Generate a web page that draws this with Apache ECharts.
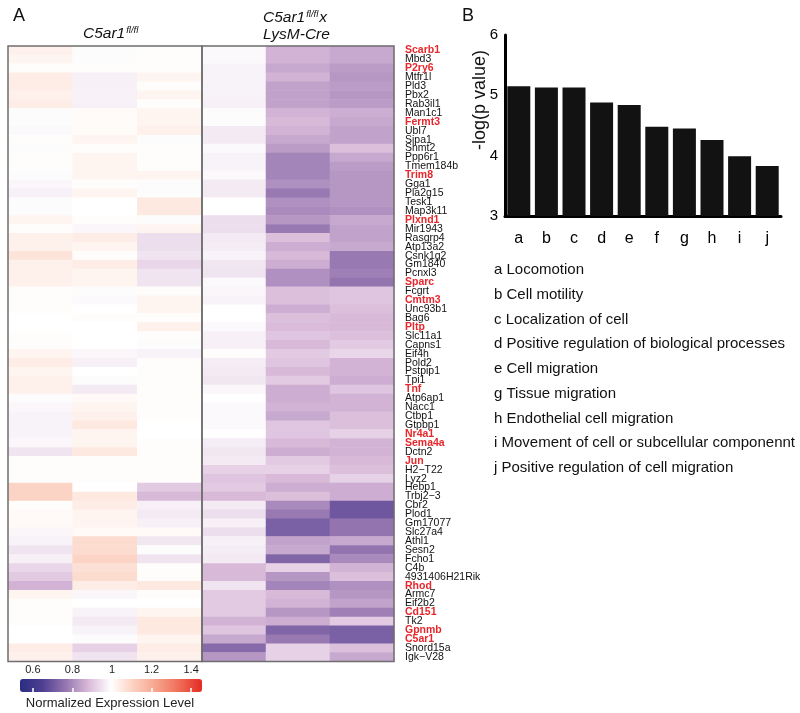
<!DOCTYPE html>
<html><head><meta charset="utf-8">
<script src="https://cdn.jsdelivr.net/npm/echarts@6/dist/echarts.min.js"></script>
<style>html,body{margin:0;padding:0;background:#fff}#c{width:800px;height:713px}</style>
</head><body><div id="c"></div>
<script>
const genes = ['Scarb1','Mbd3','P2ry6','Mtfr1l','Pld3','Pbx2','Rab3il1','Man1c1','Fermt3','Ubl7',
'Sipa1','Shmt2','Ppp6r1','Tmem184b','Trim8','Gga1','Pla2g15','Tesk1','Map3k11','Plxnd1',
'Mir1943','Rasgrp4','Atp13a2','Csnk1g2','Gm1840','Pcnxl3','Sparc','Fcgrt','Cmtm3','Unc93b1',
'Bag6','Pltp','Slc11a1','Capns1','Eif4h','Pold2','Pstpip1','Tpi1','Tnf','Atp6ap1',
'Nacc1','Ctbp1','Gtpbp1','Nr4a1','Sema4a','Dctn2','Jun','H2\u2212T22','Lyz2','Hebp1',
'Trbj2\u22123','Cbr2','Plod1','Gm17077','Slc27a4','Athl1','Sesn2','Fcho1','C4b','4931406H21Rik',
'Rhod','Armc7','Eif2b2','Cd151','Tk2','Gpnmb','C5ar1','Snord15a','Igk\u2212V28'];
const redGenes = ['Scarb1','P2ry6','Fermt3','Trim8','Plxnd1','Sparc','Cmtm3','Pltp','Tnf','Nr4a1','Sema4a','Jun','Rhod','Cd151','Gpnmb','C5ar1'];
const groupCols = ['rep1','rep2','rep3'];
const ctrl1 = [1.03,1.02,1.0,1.04,1.04,1.03,1.04,0.99,0.99,0.985,
1.0,0.99,1.0,1.0,0.99,0.98,0.97,0.99,0.99,1.02,
1.0,1.03,1.03,1.06,1.03,1.03,1.03,1.0,1.0,1.0,
0.995,0.995,1.0,1.0,1.02,1.04,1.02,1.03,1.03,0.99,
0.98,0.975,0.975,0.975,0.98,0.95,1.0,1.0,1.0,1.1,
1.1,1.0,1.01,1.01,0.98,0.975,0.95,0.97,0.93,0.91,
0.87,1.02,1.0,1.0,1.0,0.995,0.995,1.04,1.03];
const ctrl2 = [0.99,0.99,1.0,0.97,0.97,0.97,0.97,1.005,1.005,1.005,
1.02,1.0,1.02,1.02,1.02,1.0,1.02,0.995,0.995,1.0,
0.98,1.04,1.02,1.0,1.04,1.02,1.02,0.99,0.985,0.995,
1.0,0.995,0.995,0.995,0.98,0.97,0.995,0.99,0.96,1.01,
1.02,1.03,1.05,1.02,1.02,1.05,1.0,1.0,1.0,0.995,
1.05,1.04,1.02,1.02,1.01,1.08,1.08,1.1,1.07,1.08,
1.04,0.98,0.995,0.975,0.96,0.975,0.99,0.92,0.95];
const ctrl3 = [1.0,1.0,1.0,1.02,1.0,1.02,1.0,1.02,1.02,1.03,
0.99,1.0,1.0,1.0,1.02,0.99,0.99,1.05,1.05,0.99,
1.02,0.94,0.94,0.95,0.93,0.95,0.95,1.0,1.02,1.02,
1.0,1.03,1.0,0.99,0.975,1.0,1.0,1.0,1.0,1.0,
1.0,1.0,0.995,0.995,1.0,1.0,1.0,1.0,1.0,0.91,
0.88,0.97,0.96,0.97,1.01,0.955,0.99,0.95,1.0,1.0,
1.05,1.0,0.995,1.02,1.05,1.05,1.02,1.04,1.03];
const ko1 = [0.985,0.985,0.975,0.975,0.975,0.975,0.97,0.99,0.99,0.96,
0.96,0.985,0.975,0.975,0.985,0.96,0.96,0.995,0.995,0.94,
0.94,0.96,0.965,0.975,0.955,0.95,0.985,0.98,0.975,0.995,
0.995,0.985,0.97,0.97,1.0,0.965,0.96,0.955,0.98,0.995,
0.985,0.985,0.985,0.995,0.965,0.955,0.96,0.92,0.9,0.91,
0.88,0.96,0.94,0.97,0.94,0.97,0.965,0.96,0.88,0.88,
0.95,0.91,0.91,0.91,0.87,0.9,0.85,0.74,0.82];
const ko2 = [0.87,0.87,0.85,0.87,0.84,0.84,0.84,0.87,0.88,0.87,
0.85,0.83,0.79,0.79,0.79,0.81,0.77,0.81,0.8,0.82,
0.77,0.89,0.86,0.88,0.86,0.81,0.81,0.89,0.89,0.86,
0.89,0.885,0.9,0.88,0.91,0.9,0.88,0.91,0.86,0.86,
0.87,0.85,0.9,0.9,0.88,0.86,0.91,0.92,0.88,0.86,
0.89,0.8,0.77,0.72,0.72,0.84,0.85,0.73,0.92,0.82,
0.79,0.88,0.87,0.82,0.86,0.73,0.77,0.92,0.92];
const ko3 = [0.85,0.85,0.83,0.82,0.83,0.82,0.83,0.86,0.85,0.84,
0.84,0.89,0.85,0.83,0.82,0.82,0.82,0.82,0.81,0.85,
0.84,0.84,0.85,0.77,0.77,0.78,0.76,0.9,0.9,0.89,
0.88,0.88,0.89,0.91,0.93,0.87,0.87,0.86,0.9,0.87,
0.87,0.89,0.89,0.92,0.87,0.87,0.88,0.89,0.92,0.86,
0.86,0.7,0.7,0.76,0.76,0.85,0.76,0.8,0.87,0.89,
0.81,0.82,0.84,0.78,0.91,0.72,0.72,0.89,0.85];
const colorTicks = [0.6,0.8,1,1.2,1.4];
const barCats = ['a','b','c','d','e','f','g','h','i','j'];
const barValues = [5.15,5.13,5.13,4.88,4.84,4.48,4.45,4.26,3.99,3.83];
const termLabels = ['a Locomotion','b Cell motility','c Localization of cell',
'd Positive regulation of biological processes','e Cell migration','g Tissue migration',
'h Endothelial cell migration','i Movement of cell or subcellular componennt',
'j Positive regulation of cell migration'];

const FF = '"Liberation Sans", Arial, sans-serif';
function cells(cols){const d=[];cols.forEach((arr,ci)=>arr.forEach((v,ri)=>d.push([ci,ri,v])));return d;}

const chart = echarts.init(document.getElementById('c'), null, {renderer:'canvas'});
const hmTop = 46, hmH = 615.5;
const geneAxisBase = {type:'category', data:genes, inverse:true, axisLine:{show:false}, axisTick:{show:false}, splitLine:{show:false}};
const titleRich = {
  i:{fontSize:15.5, fontStyle:'italic', fontFamily:FF, lineHeight:17, fill:'#111'},
  s:{fontSize:9.5, fontStyle:'italic', fontFamily:FF, verticalAlign:'top', fill:'#111', padding:[0,1,0,1]}
};
const option = {
  animation:false,
  backgroundColor:'#fff',
  textStyle:{fontFamily:FF},
  grid:[
    {left:8, top:hmTop, width:194, height:hmH, show:true, borderColor:'#6e6e6e', borderWidth:1.5, backgroundColor:'transparent', z:5},
    {left:202, top:hmTop, width:192, height:hmH, show:true, borderColor:'#6e6e6e', borderWidth:1.5, backgroundColor:'transparent', z:5},
    {left:20, top:679, width:182, height:13},
    {left:505, top:35, width:276, height:181}
  ],
  xAxis:[
    {gridIndex:0, type:'category', data:groupCols, show:false},
    {gridIndex:1, type:'category', data:groupCols, show:false},
    {gridIndex:2, type:'value', min:0.535, max:1.455, position:'bottom', z:10,
      axisLine:{show:false}, splitLine:{show:false}, axisLabel:{show:false},
      axisTick:{show:true, inside:true, length:4, customValues:colorTicks, lineStyle:{color:'#fff', width:1.5}}},
    {gridIndex:2, type:'value', min:0.535, max:1.455, position:'top', z:10,
      axisLine:{show:false}, splitLine:{show:false}, axisTick:{show:false},
      axisLabel:{show:true, customValues:colorTicks, fontSize:11, margin:4, color:'#222', fontFamily:FF, formatter:v=>String(v)}},
    {gridIndex:3, type:'category', data:barCats,
      axisLine:{lineStyle:{color:'#000', width:3}},
      axisTick:{alignWithLabel:true, length:5, lineStyle:{color:'#000', width:3}},
      axisLabel:{fontSize:16, color:'#000', margin:15, fontFamily:FF}}
  ],
  yAxis:[
    Object.assign({gridIndex:0, axisLabel:{show:false}}, geneAxisBase),
    Object.assign({gridIndex:1, position:'right', axisLabel:{interval:0, margin:11, fontSize:10.5, color:'#111', fontFamily:FF,
      formatter:v=> redGenes.includes(v) ? '{r|'+v+'}' : v,
      rich:{r:{color:'#e8262b', fontWeight:'bold', fontSize:10.5, fontFamily:FF}}}}, geneAxisBase),
    {gridIndex:2, type:'value', show:false},
    {gridIndex:3, type:'value', min:3, max:6, interval:1,
      axisLine:{show:true, lineStyle:{color:'#000', width:3}}, axisTick:{show:false}, splitLine:{show:false},
      axisLabel:{fontSize:15, color:'#000', margin:7, fontFamily:FF}}
  ],
  visualMap:{type:'continuous', min:0.535, max:1.455, seriesIndex:[0,1], dimension:2,
    orient:'horizontal', left:20, top:679, itemWidth:13, itemHeight:182, padding:0,
    calculable:false, text:null, hoverLink:false,
    inRange:{color:['#2b2d82','#4f3f92','#9676b0','#d8b9d8','#ffffff','#fcd0bf','#f7a38c','#ef6d57','#e32b24']}},
  series:[
    {type:'heatmap', xAxisIndex:0, yAxisIndex:0, data:cells([ctrl1,ctrl2,ctrl3]), progressive:0, emphasis:{disabled:true}},
    {type:'heatmap', xAxisIndex:1, yAxisIndex:1, data:cells([ko1,ko2,ko3]), progressive:0, emphasis:{disabled:true}},
    {type:'bar', xAxisIndex:4, yAxisIndex:3, data:barValues, barWidth:23, itemStyle:{color:'#121212'}}
  ],
  graphic:[
    {type:'text', x:13, y:16, style:{text:'A', fontSize:18, fontFamily:FF, fill:'#111', verticalAlign:'middle'}},
    {type:'text', x:462, y:16, style:{text:'B', fontSize:18, fontFamily:FF, fill:'#111', verticalAlign:'middle'}},
    {type:'text', x:83, y:25, style:{text:'{i|C5ar1}{s|fl/fl}', fill:'#111', rich:titleRich}},
    {type:'text', x:263, y:9, style:{text:'{i|C5ar1}{s|fl/fl}{i|x}\n{i|LysM-Cre}', fill:'#111', rich:titleRich}},
    {type:'text', x:110, y:703, style:{text:'Normalized Expression Level', fontSize:13, fontFamily:FF, fill:'#222', align:'center', verticalAlign:'middle'}},
    {type:'text', x:480, y:100, rotation:Math.PI/2, style:{text:'-log(p value)', fontSize:18, fontFamily:FF, fill:'#111', align:'center', verticalAlign:'middle'}}
  ].concat(termLabels.map((t,i)=>({type:'text', x:494, y:270+i*24.75,
      style:{text:t, fontSize:15, fontFamily:FF, fill:'#111', verticalAlign:'middle'}})))
};
chart.setOption(option);
</script></body></html>
